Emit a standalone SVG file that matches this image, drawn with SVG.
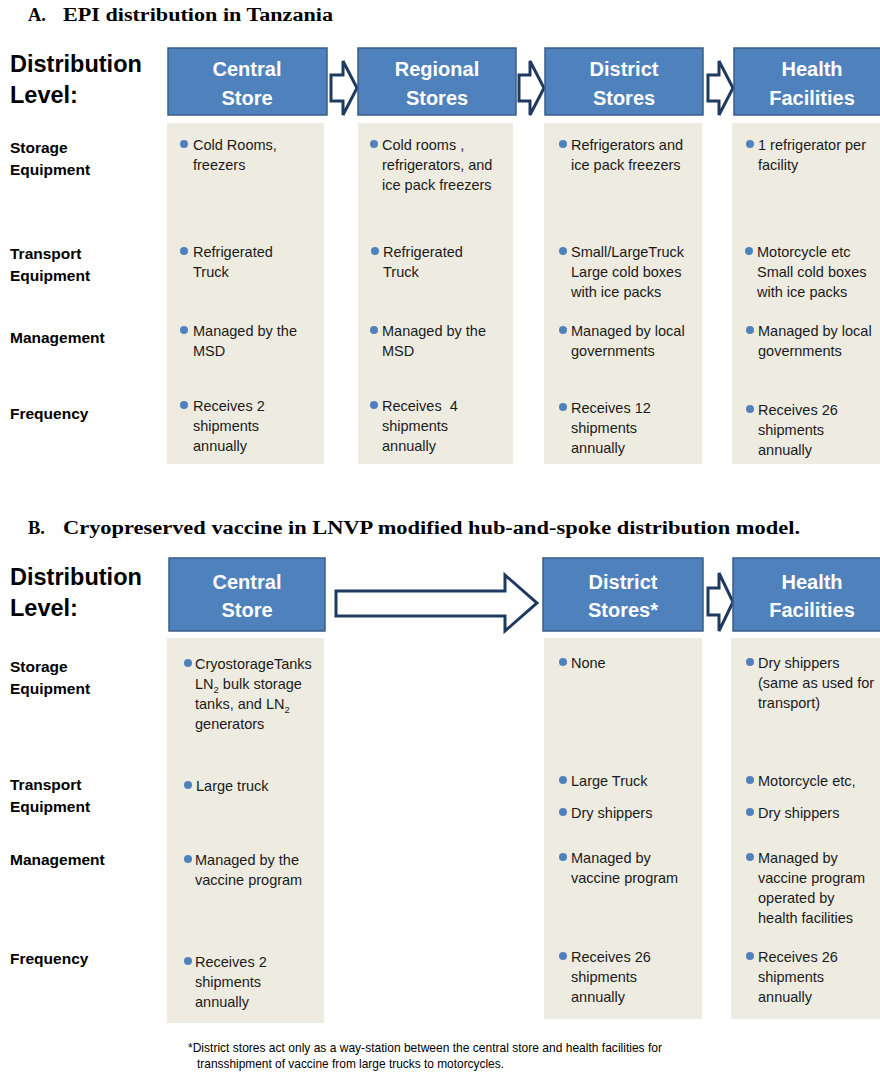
<svg xmlns="http://www.w3.org/2000/svg" width="880" height="1079" viewBox="0 0 880 1079">
<style>
.title{font-family:"Liberation Serif",serif;font-weight:bold;font-size:18.5px;fill:#000}
.dl{font-family:"Liberation Sans",Arial,sans-serif;font-weight:bold;font-size:23.5px;fill:#000}
.rl{font-family:"Liberation Sans",Arial,sans-serif;font-weight:bold;font-size:15.5px;fill:#000}
.hb{fill:#4F81BD;stroke:#385D8A;stroke-width:1.5}
.ht{font-family:"Liberation Sans",Arial,sans-serif;font-weight:bold;font-size:20px;fill:#fff;text-anchor:middle}
.pn{fill:#EEECE1}
.ct{font-family:"Liberation Sans",Arial,sans-serif;font-size:14.5px;fill:#1a1a1a}
.sub{font-size:9.5px}
.bl{fill:#4F81BD}
.ar{fill:#fff;stroke:#1F3A60;stroke-width:3;stroke-linejoin:miter}
.fn{font-family:"Liberation Sans",Arial,sans-serif;font-size:13.5px;fill:#000}
</style>

<!-- Section A -->
<g id="titleA">
<text class="title" x="28" y="21">A.</text>
<text class="title" x="63" y="21" textLength="270" lengthAdjust="spacingAndGlyphs">EPI distribution in Tanzania</text>
</g>
<g id="labelsA">
<text class="dl" x="10" y="72">Distribution</text>
<text class="dl" x="10" y="103">Level:</text>
<text class="rl" x="10" y="153">Storage</text>
<text class="rl" x="10" y="175">Equipment</text>
<text class="rl" x="10" y="259">Transport</text>
<text class="rl" x="10" y="281">Equipment</text>
<text class="rl" x="10" y="343">Management</text>
<text class="rl" x="10" y="419">Frequency</text>
</g>

<g id="connectorsA">
<path class="ar" d="M331,75 H343 V61 L357,88 L343,115 V101 H331 Z"/>
<path class="ar" d="M519,75 H530 V61 L544,88 L530,115 V101 H519 Z"/>
<path class="ar" d="M708,75 H719 V61 L733,88 L719,115 V101 H708 Z"/>
</g>

<g id="A-central">
<rect class="hb" x="168" y="48" width="159" height="67"/>
<text class="ht" x="247" y="76">Central</text>
<text class="ht" x="247" y="105">Store</text>
<rect class="pn" x="167" y="123" width="157" height="341"/>
<circle class="bl" cx="184" cy="144" r="4"/>
<text class="ct" x="193" y="150">Cold Rooms,</text>
<text class="ct" x="193" y="170">freezers</text>
<circle class="bl" cx="184" cy="251" r="4"/>
<text class="ct" x="193" y="257">Refrigerated</text>
<text class="ct" x="193" y="277">Truck</text>
<circle class="bl" cx="184" cy="330" r="4"/>
<text class="ct" x="193" y="336">Managed by the</text>
<text class="ct" x="193" y="356">MSD</text>
<circle class="bl" cx="184" cy="405" r="4"/>
<text class="ct" x="193" y="411">Receives 2</text>
<text class="ct" x="193" y="431">shipments</text>
<text class="ct" x="193" y="451">annually</text>
</g>

<g id="A-regional">
<rect class="hb" x="358" y="48" width="158" height="67"/>
<text class="ht" x="437" y="76">Regional</text>
<text class="ht" x="437" y="105">Stores</text>
<rect class="pn" x="358" y="123" width="155" height="341"/>
<circle class="bl" cx="374" cy="144" r="4"/>
<text class="ct" x="382" y="150">Cold rooms ,</text>
<text class="ct" x="382" y="170">refrigerators, and</text>
<text class="ct" x="382" y="190">ice pack freezers</text>
<circle class="bl" cx="375" cy="251" r="4"/>
<text class="ct" x="383" y="257">Refrigerated</text>
<text class="ct" x="383" y="277">Truck</text>
<circle class="bl" cx="374" cy="330" r="4"/>
<text class="ct" x="382" y="336">Managed by the</text>
<text class="ct" x="382" y="356">MSD</text>
<circle class="bl" cx="374" cy="405" r="4"/>
<text class="ct" x="382" y="411" xml:space="preserve">Receives  4</text>
<text class="ct" x="382" y="431">shipments</text>
<text class="ct" x="382" y="451">annually</text>
</g>

<g id="A-district">
<rect class="hb" x="545" y="48" width="158" height="67"/>
<text class="ht" x="624" y="76">District</text>
<text class="ht" x="624" y="105">Stores</text>
<rect class="pn" x="544" y="123" width="158" height="341"/>
<circle class="bl" cx="563" cy="144" r="4"/>
<text class="ct" x="571" y="150">Refrigerators and</text>
<text class="ct" x="571" y="170">ice pack freezers</text>
<circle class="bl" cx="563" cy="251" r="4"/>
<text class="ct" x="571" y="257">Small/LargeTruck</text>
<text class="ct" x="571" y="277">Large cold boxes</text>
<text class="ct" x="571" y="297">with ice packs</text>
<circle class="bl" cx="563" cy="330" r="4"/>
<text class="ct" x="571" y="336">Managed by local</text>
<text class="ct" x="571" y="356">governments</text>
<circle class="bl" cx="563" cy="407" r="4"/>
<text class="ct" x="571" y="413">Receives 12</text>
<text class="ct" x="571" y="433">shipments</text>
<text class="ct" x="571" y="453">annually</text>
</g>

<g id="A-health">
<rect class="hb" x="734" y="48" width="158" height="67"/>
<text class="ht" x="812" y="76">Health</text>
<text class="ht" x="812" y="105">Facilities</text>
<rect class="pn" x="732" y="123" width="158" height="341"/>
<circle class="bl" cx="750" cy="144" r="4"/>
<text class="ct" x="758" y="150">1 refrigerator per</text>
<text class="ct" x="758" y="170">facility</text>
<circle class="bl" cx="749" cy="251" r="4"/>
<text class="ct" x="757" y="257">Motorcycle etc</text>
<text class="ct" x="757" y="277">Small cold boxes</text>
<text class="ct" x="757" y="297">with ice packs</text>
<circle class="bl" cx="750" cy="330" r="4"/>
<text class="ct" x="758" y="336">Managed by local</text>
<text class="ct" x="758" y="356">governments</text>
<circle class="bl" cx="750" cy="409" r="4"/>
<text class="ct" x="758" y="415">Receives 26</text>
<text class="ct" x="758" y="435">shipments</text>
<text class="ct" x="758" y="455">annually</text>
</g>

<!-- Section B -->
<g id="titleB">
<text class="title" x="28" y="534">B.</text>
<text class="title" x="63" y="534" textLength="737" lengthAdjust="spacingAndGlyphs">Cryopreserved vaccine in LNVP modified hub-and-spoke distribution model.</text>
</g>
<g id="labelsB">
<text class="dl" x="10" y="585">Distribution</text>
<text class="dl" x="10" y="616">Level:</text>
<text class="rl" x="10" y="672">Storage</text>
<text class="rl" x="10" y="694">Equipment</text>
<text class="rl" x="10" y="790">Transport</text>
<text class="rl" x="10" y="812">Equipment</text>
<text class="rl" x="10" y="865">Management</text>
<text class="rl" x="10" y="964">Frequency</text>
</g>

<g id="connectorsB">
<path class="ar" d="M336,591 H505 V575 L537,603 L505,631 V616 H336 Z"/>
<path class="ar" d="M708,588 H719 V573 L733,602 L719,631 V615 H708 Z"/>
</g>

<g id="B-central">
<rect class="hb" x="169" y="558" width="156" height="73"/>
<text class="ht" x="247" y="589">Central</text>
<text class="ht" x="247" y="617">Store</text>
<rect class="pn" x="167" y="638" width="157" height="385"/>
<circle class="bl" cx="188" cy="663" r="4"/>
<text class="ct" x="195" y="669">CryostorageTanks</text>
<text class="ct" x="195" y="689">LN<tspan class="sub" dy="4">2</tspan><tspan dy="-4"> bulk storage</tspan></text>
<text class="ct" x="195" y="709">tanks, and LN<tspan class="sub" dy="4">2</tspan></text>
<text class="ct" x="195" y="729">generators</text>
<circle class="bl" cx="188" cy="785" r="4"/>
<text class="ct" x="196" y="791">Large truck</text>
<circle class="bl" cx="188" cy="859" r="4"/>
<text class="ct" x="195" y="865">Managed by the</text>
<text class="ct" x="195" y="885">vaccine program</text>
<circle class="bl" cx="188" cy="961" r="4"/>
<text class="ct" x="195" y="967">Receives 2</text>
<text class="ct" x="195" y="987">shipments</text>
<text class="ct" x="195" y="1007">annually</text>
</g>

<g id="B-district">
<rect class="hb" x="543" y="558" width="160" height="73"/>
<text class="ht" x="623" y="589">District</text>
<text class="ht" x="623" y="617">Stores*</text>
<rect class="pn" x="544" y="638" width="158" height="381"/>
<circle class="bl" cx="563" cy="662" r="4"/>
<text class="ct" x="571" y="668">None</text>
<circle class="bl" cx="563" cy="780" r="4"/>
<text class="ct" x="571" y="786">Large Truck</text>
<circle class="bl" cx="563" cy="812" r="4"/>
<text class="ct" x="571" y="818">Dry shippers</text>
<circle class="bl" cx="563" cy="857" r="4"/>
<text class="ct" x="571" y="863">Managed by</text>
<text class="ct" x="571" y="883">vaccine program</text>
<circle class="bl" cx="563" cy="956" r="4"/>
<text class="ct" x="571" y="962">Receives 26</text>
<text class="ct" x="571" y="982">shipments</text>
<text class="ct" x="571" y="1002">annually</text>
</g>

<g id="B-health">
<rect class="hb" x="733" y="558" width="158" height="73"/>
<text class="ht" x="812" y="589">Health</text>
<text class="ht" x="812" y="617">Facilities</text>
<rect class="pn" x="731" y="638" width="158" height="381"/>
<circle class="bl" cx="750" cy="662" r="4"/>
<text class="ct" x="758" y="668">Dry shippers</text>
<text class="ct" x="758" y="688">(same as used for</text>
<text class="ct" x="758" y="708">transport)</text>
<circle class="bl" cx="750" cy="780" r="4"/>
<text class="ct" x="758" y="786">Motorcycle etc,</text>
<circle class="bl" cx="750" cy="812" r="4"/>
<text class="ct" x="758" y="818">Dry shippers</text>
<circle class="bl" cx="750" cy="857" r="4"/>
<text class="ct" x="758" y="863">Managed by</text>
<text class="ct" x="758" y="883">vaccine program</text>
<text class="ct" x="758" y="903">operated by</text>
<text class="ct" x="758" y="923">health facilities</text>
<circle class="bl" cx="750" cy="956" r="4"/>
<text class="ct" x="758" y="962">Receives 26</text>
<text class="ct" x="758" y="982">shipments</text>
<text class="ct" x="758" y="1002">annually</text>
</g>

<g id="footnote">
<text class="fn" x="188" y="1052" textLength="474" lengthAdjust="spacingAndGlyphs">*District stores act only as a way-station between the central store and health facilities for</text>
<text class="fn" x="197" y="1068" textLength="307" lengthAdjust="spacingAndGlyphs">transshipment of vaccine from large trucks to motorcycles.</text>
</g>
</svg>
